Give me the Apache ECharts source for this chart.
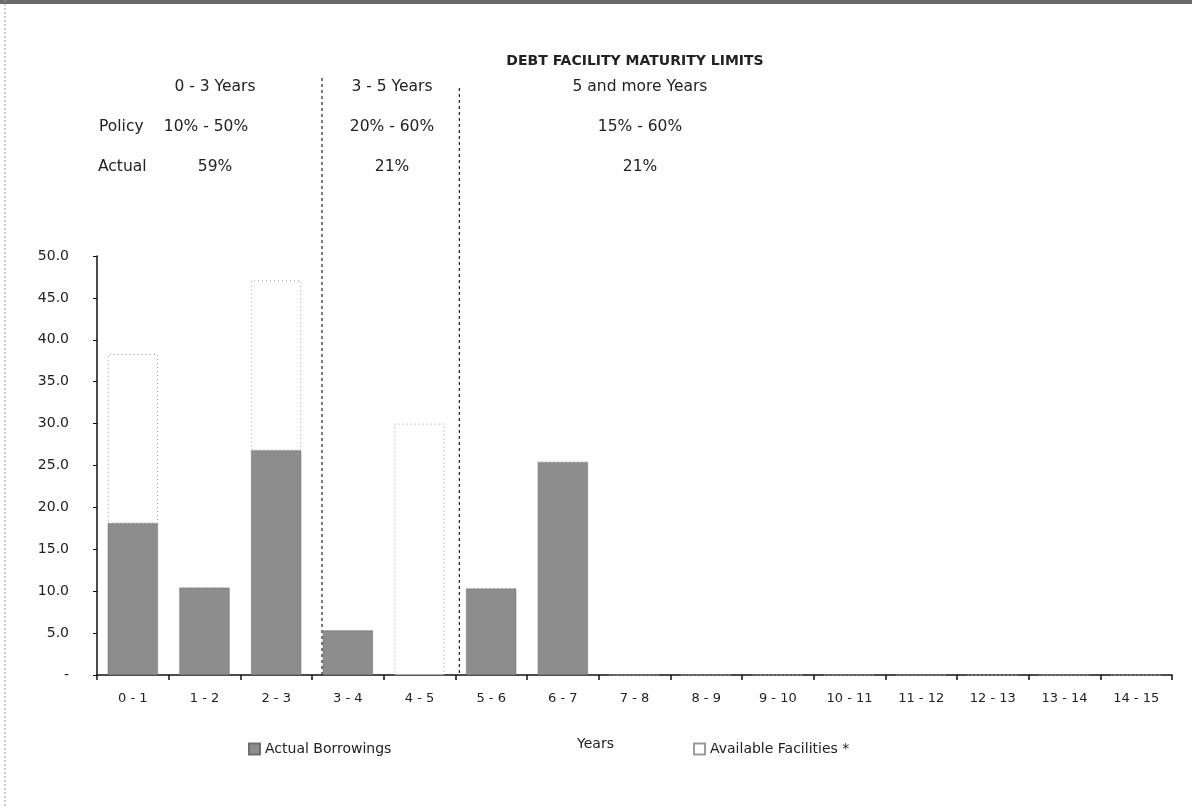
<!DOCTYPE html>
<html>
<head>
<meta charset="utf-8">
<title>Debt Facility Maturity Limits</title>
<script src="https://cdn.jsdelivr.net/npm/echarts@6/dist/echarts.min.js"></script>
<style>
  html, body { margin: 0; padding: 0; background: #fff; }
  #chart { width: 1192px; height: 808px; }
</style>
</head>
<body>
<div id="chart"></div>
<script>
// Maturity buckets (years)
const categories = ['0 - 1', '1 - 2', '2 - 3', '3 - 4', '4 - 5', '5 - 6', '6 - 7', '7 - 8',
  '8 - 9', '9 - 10', '10 - 11', '11 - 12', '12 - 13', '13 - 14', '14 - 15'];

// Drawn borrowings per bucket
const actualBorrowings = [18.1, 10.4, 26.8, 5.3, 0, 10.3, 25.4, 0, 0, 0, 0, 0, 0, 0, 0];
// Undrawn facility headroom, stacked above the borrowings
const availableFacilities = [20.2, 0, 20.3, 0, 30.0, 0, 0, 0, 0, 0, 0, 0, 0, 0, 0];

// Y axis ticks
const yMin = 0, yMax = 50, yStep = 5;

// Policy bands across the maturity profile
const bandNames = ['0 - 3 Years', '3 - 5 Years', '5 and more Years'];
const bandPolicy = ['10% - 50%', '20% - 60%', '15% - 60%'];
const bandActual = ['59%', '21%', '21%'];
const bandEdges = [3, 5];

const FONT = '"DejaVu Sans", "Noto Sans", sans-serif';
const INK = '#222222';
const BAR_GREY = '#8d8d8d';

const chart = echarts.init(document.getElementById('chart'), null, { renderer: 'canvas' });

const option = {
  backgroundColor: '#ffffff',
  animation: false,
  textStyle: { fontFamily: FONT, color: INK },
  title: {
    text: 'DEBT FACILITY MATURITY LIMITS',
    left: 630, top: 49, textAlign: 'center',
    textStyle: { fontFamily: FONT, fontSize: 14, fontWeight: 'bold', color: INK }
  },
  grid: { left: 97, right: 20, top: 256, bottom: 133, containLabel: false },
  legend: [
    {
      data: ['Actual Borrowings'],
      left: 243, top: 737, icon: 'rect',
      itemWidth: 11, itemHeight: 11, itemGap: 4,
      textStyle: { fontFamily: FONT, fontSize: 14, color: INK }
    },
    {
      data: ['Available Facilities *'],
      left: 688, top: 737, icon: 'rect',
      itemWidth: 11, itemHeight: 11, itemGap: 3,
      textStyle: { fontFamily: FONT, fontSize: 14, color: INK }
    }
  ],
  xAxis: [
    {
      type: 'category',
      data: categories,
      boundaryGap: true,
      name: 'Years',
      nameLocation: 'middle',
      nameGap: 62,
      nameTextStyle: { fontFamily: FONT, fontSize: 14, color: INK, padding: [0, 78, 0, 0] },
      axisLine: { lineStyle: { color: '#111', width: 1.5 } },
      axisTick: { show: true, length: 5, lineStyle: { color: '#111', width: 1.5 } },
      axisLabel: { fontFamily: FONT, fontSize: 13, color: INK, margin: 17, interval: 0 }
    },
    {
      // hidden continuous axis used to place the policy band dividers
      type: 'value', min: 0, max: categories.length, show: false
    }
  ],
  yAxis: {
    type: 'value',
    min: yMin, max: yMax, interval: yStep,
    axisLine: { show: true, lineStyle: { color: '#111', width: 1.5 } },
    axisTick: { show: true, length: 4, lineStyle: { color: '#111' } },
    splitLine: { show: false },
    axisLabel: {
      fontFamily: FONT, fontSize: 14, color: INK, margin: 28,
      formatter: v => (v === 0 ? '-' : v.toFixed(1))
    }
  },
  series: [
    {
      name: 'Actual Borrowings',
      type: 'bar',
      stack: 'facility',
      data: actualBorrowings,
      barCategoryGap: '30%',
      itemStyle: { color: BAR_GREY, borderColor: '#6f6f6f', borderWidth: 0.5 },
      emphasis: { disabled: true }
    },
    {
      name: 'Available Facilities *',
      type: 'bar',
      stack: 'facility',
      data: availableFacilities,
      itemStyle: { color: '#ffffff', borderColor: '#9a9a9a', borderWidth: 1, borderType: [1, 3] },
      emphasis: { disabled: true }
    }
  ]
};

chart.setOption(option);

// Header texts and dotted band dividers, positioned from the hidden value axis
function bandX(v) { return chart.convertToPixel({ xAxisIndex: 1 }, v); }
const plotBottom = chart.convertToPixel({ yAxisIndex: 0 }, yMin);
const edgesPx = [bandX(bandEdges[0]) + 10, bandX(bandEdges[1]) + 4];
const bandCentres = [215, 392, 640];
const rows = [87, 127, 167];

const graphics = [];
// scanned page edge
graphics.push({ type: 'rect', shape: { x: 0, y: 0, width: 1192, height: 4 }, style: { fill: '#6a6a6a' }, silent: true });
graphics.push({ type: 'line', shape: { x1: 5, y1: 0, x2: 5, y2: 808 }, style: { stroke: '#9a9a9a', lineWidth: 1, lineDash: [2, 2] }, silent: true });

edgesPx.forEach((x, i) => {
  graphics.push({
    type: 'line', silent: true,
    shape: { x1: x, y1: i === 0 ? 78 : 88, x2: x, y2: plotBottom },
    style: { stroke: '#222', lineWidth: 1.2, lineDash: [3, 3] }
  });
});

const headerFont = '15.5px ' + FONT;
bandNames.forEach((t, i) => {
  graphics.push({ type: 'text', silent: true, x: bandCentres[i], y: rows[0],
    style: { text: t, font: headerFont, fill: INK, textAlign: 'center', textVerticalAlign: 'middle' } });
});
bandPolicy.forEach((t, i) => {
  graphics.push({ type: 'text', silent: true, x: i === 0 ? 206 : bandCentres[i], y: rows[1],
    style: { text: t, font: headerFont, fill: INK, textAlign: 'center', textVerticalAlign: 'middle' } });
});
bandActual.forEach((t, i) => {
  graphics.push({ type: 'text', silent: true, x: bandCentres[i], y: rows[2],
    style: { text: t, font: headerFont, fill: INK, textAlign: 'center', textVerticalAlign: 'middle' } });
});
graphics.push({ type: 'text', silent: true, x: 99, y: rows[1],
  style: { text: 'Policy', font: headerFont, fill: INK, textAlign: 'left', textVerticalAlign: 'middle' } });
graphics.push({ type: 'text', silent: true, x: 98, y: rows[2],
  style: { text: 'Actual', font: headerFont, fill: INK, textAlign: 'left', textVerticalAlign: 'middle' } });

chart.setOption({ graphic: graphics });
</script>
</body>
</html>
